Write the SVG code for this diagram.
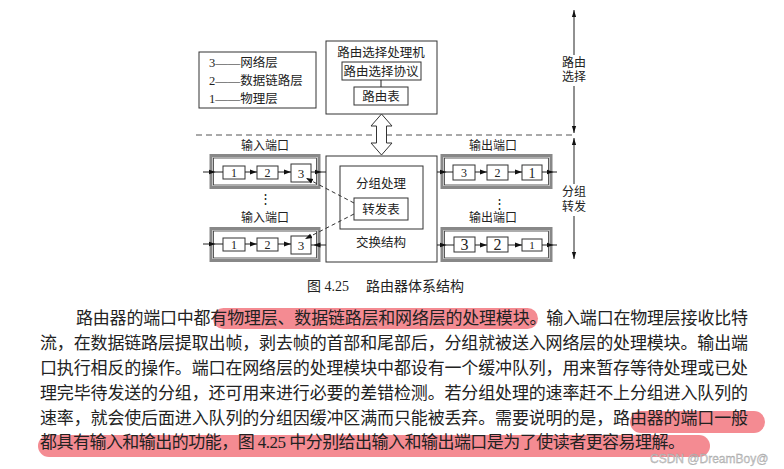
<svg xmlns="http://www.w3.org/2000/svg" width="784" height="469" viewBox="0 0 784 469">
<style>
text{font-family:"Liberation Serif","Noto Sans CJK SC",serif;fill:#222}
.lbl{font-size:12.5px;text-anchor:middle}
.dig{font-size:12px;text-anchor:middle}
.big{font-size:16px;text-anchor:middle}
.para{font-size:17px}
.box{fill:#fff;stroke:#333;stroke-width:1}
.pout{fill:#fff;stroke:#888;stroke-width:3}
.pin{fill:none;stroke:#333;stroke-width:0.8}
.ln{stroke:#222;stroke-width:1;fill:none}
.dash{stroke:#333;stroke-width:1;stroke-dasharray:4,3;fill:none}
.hl{fill:#ef5a64;fill-opacity:0.7}
</style>
<defs>
<marker id="ah" viewBox="0 0 10 10" refX="10" refY="5" markerWidth="7" markerHeight="7" orient="auto" markerUnits="userSpaceOnUse"><path d="M0,1.5 L10,5 L0,8.5 Z" fill="#111"/></marker>
<marker id="am" viewBox="0 0 10 10" refX="5" refY="5" markerWidth="7" markerHeight="7" orient="auto" markerUnits="userSpaceOnUse"><path d="M0,1.5 L10,5 L0,8.5 Z" fill="#111"/></marker>
<marker id="av" viewBox="0 0 10 10" refX="10" refY="5" markerWidth="9" markerHeight="7" orient="auto-start-reverse" markerUnits="userSpaceOnUse"><path d="M0,2 L10,5 L0,8 Z" fill="#111"/></marker>
</defs>
<rect width="784" height="469" fill="#fff"/>

<g id="legend">
<rect x="199" y="52" width="117" height="56" fill="#fff" stroke="#333"/>
<text x="209" y="67" style="font-size:12.5px">3——网络层</text>
<text x="209" y="85" style="font-size:12.5px">2——数据链路层</text>
<text x="209" y="103" style="font-size:12.5px">1——物理层</text>
</g>

<g id="routing-processor">
<rect x="326" y="41" width="111" height="73" class="box"/>
<text x="381" y="57" class="lbl">路由选择处理机</text>
<rect x="342" y="62" width="79" height="18" class="box"/>
<text x="381" y="76" class="lbl">路由选择协议</text>
<line x1="381" y1="80" x2="381" y2="87" class="ln"/>
<rect x="354" y="87" width="54" height="18" class="box"/>
<text x="381" y="101" class="lbl">路由表</text>
</g>

<g id="switch-fabric">
<rect x="326" y="156" width="111" height="106" class="box"/>
<rect x="340" y="166" width="83" height="63" class="box"/>
<text x="381" y="188" class="lbl">分组处理</text>
<rect x="354" y="198" width="54" height="22" class="box"/>
<text x="381" y="214" class="lbl">转发表</text>
<text x="381" y="247" class="lbl">交换结构</text>
</g>

<g id="input-port-1">
<text x="265" y="150" class="lbl" style="font-size:12px">输入端口</text>
<rect x="211" y="155.5" width="108" height="32" class="pout"/>
<rect x="213.5" y="158" width="103" height="27" class="pin"/>
<rect x="223" y="166" width="22" height="13" class="box"/><text x="234" y="177" class="dig">1</text>
<rect x="257" y="166" width="21" height="13" class="box"/><text x="267.5" y="177" class="dig">2</text>
<rect x="291" y="164" width="20" height="18" class="box"/><text x="301" y="178" class="dig" style="font-size:13px">3</text>
</g>
<g id="input-port-2">
<text x="265" y="222" class="lbl" style="font-size:12px">输入端口</text>
<rect x="211" y="228.5" width="108" height="32" class="pout"/>
<rect x="213.5" y="231" width="103" height="27" class="pin"/>
<rect x="223" y="238" width="22" height="13" class="box"/><text x="234" y="249" class="dig">1</text>
<rect x="257" y="238" width="21" height="13" class="box"/><text x="267.5" y="249" class="dig">2</text>
<rect x="291" y="236" width="20" height="18" class="box"/><text x="301" y="250" class="dig" style="font-size:13px">3</text>
</g>
<g id="output-port-1">
<text x="493" y="150" class="lbl" style="font-size:12px">输出端口</text>
<rect x="442" y="155.5" width="109" height="32" class="pout"/>
<rect x="444.5" y="158" width="104" height="27" class="pin"/>
<rect x="453" y="165" width="22" height="15" class="box"/><text x="464" y="177" class="dig">3</text>
<rect x="487" y="165" width="21" height="15" class="box"/><text x="497.5" y="177" class="dig">2</text>
<rect x="522" y="165" width="20" height="15" class="box"/><text x="532" y="178" class="dig" style="font-size:14px">1</text>
</g>
<g id="output-port-2">
<text x="493" y="222" class="lbl" style="font-size:12px">输出端口</text>
<rect x="442" y="228.5" width="109" height="32" class="pout"/>
<rect x="444.5" y="231" width="104" height="27" class="pin"/>
<rect x="454" y="237" width="21" height="15" class="box"/><text x="464.5" y="250" class="big">3</text>
<rect x="487" y="237" width="21" height="15" class="box"/><text x="497.5" y="250" class="big">2</text>
<rect x="522" y="239" width="20" height="12" class="box"/><text x="532" y="249" class="dig" style="font-size:11px">1</text>
</g>

<g id="dots">
<text x="265" y="203" class="lbl">⋮</text>
<text x="499" y="208" class="lbl">⋮</text>
</g>

<g id="labels">
<text x="574" y="67" class="lbl" style="font-size:12px">路由</text>
<text x="574" y="81" class="lbl" style="font-size:12px">选择</text>
<text x="574" y="196" class="lbl" style="font-size:12px">分组</text>
<text x="574" y="211" class="lbl" style="font-size:12px">转发</text>
</g>

<g id="connectors">
<line x1="196" y1="135" x2="574" y2="135" stroke="#555" stroke-width="1.2" stroke-dasharray="6,4"/>
<path d="M574,10 L574,55" class="ln" marker-start="url(#av)"/>
<path d="M574,86 L574,133" class="ln" marker-end="url(#av)"/>
<path d="M574,138 L574,184" class="ln" marker-start="url(#av)"/>
<path d="M574,216 L574,259" class="ln" marker-end="url(#av)"/>
<path d="M381.5,114 L392,126 L386.5,126 L386.5,143 L392,143 L381.5,155 L371,143 L376.5,143 L376.5,126 L371,126 Z" fill="#fff" stroke="#333" stroke-width="1"/>
<path d="M203,172 L212,172 L223,172" class="ln" marker-mid="url(#am)"/>
<line x1="245" y1="172" x2="257" y2="172" class="ln" marker-end="url(#ah)"/>
<line x1="278" y1="172" x2="291" y2="172" class="ln" marker-end="url(#ah)"/>
<path d="M311,172 L318,172 L326,172" class="ln" marker-mid="url(#am)"/>
<path d="M203,244 L212,244 L223,244" class="ln" marker-mid="url(#am)"/>
<line x1="245" y1="244" x2="257" y2="244" class="ln" marker-end="url(#ah)"/>
<line x1="278" y1="244" x2="291" y2="244" class="ln" marker-end="url(#ah)"/>
<path d="M326,245 L317,245 L311,245" class="ln" marker-mid="url(#am)"/>
<path d="M437,172 L443,172 L453,172" class="ln" marker-mid="url(#am)"/>
<line x1="475" y1="172" x2="487" y2="172" class="ln" marker-end="url(#ah)"/>
<line x1="508" y1="172" x2="522" y2="172" class="ln" marker-end="url(#ah)"/>
<path d="M542,172 L550,172 L557,172" class="ln" marker-mid="url(#am)"/>
<path d="M437,245 L443,245 L454,245" class="ln" marker-mid="url(#am)"/>
<line x1="475" y1="245" x2="487" y2="245" class="ln" marker-end="url(#ah)"/>
<line x1="508" y1="245" x2="522" y2="245" class="ln" marker-end="url(#ah)"/>
<path d="M542,245 L550,245 L557,245" class="ln" marker-mid="url(#am)"/>
<line x1="354" y1="203" x2="306" y2="178" class="dash" marker-end="url(#ah)"/>
<line x1="354" y1="214" x2="305" y2="239" class="dash" marker-end="url(#ah)"/>
</g>

<g id="caption">
<text x="307" y="291" style="font-size:14px">图 4.25</text>
<text x="366" y="291" style="font-size:14px">路由器体系结构</text>
</g>

<g id="highlights">
<rect x="213" y="308" width="325" height="21" rx="10.5" class="hl"/>
<rect x="630" y="411" width="135" height="22" rx="11" class="hl"/>
<rect x="38" y="435" width="672" height="22" rx="11" class="hl"/>
</g>

<g id="paragraph">
<text x="76" y="324" class="para" textLength="672" lengthAdjust="spacing">路由器的端口中都有物理层、数据链路层和网络层的处理模块。输入端口在物理层接收比特</text>
<text x="40" y="349" class="para" textLength="708" lengthAdjust="spacing">流，在数据链路层提取出帧，剥去帧的首部和尾部后，分组就被送入网络层的处理模块。输出端</text>
<text x="40" y="374" class="para" textLength="708" lengthAdjust="spacing">口执行相反的操作。端口在网络层的处理模块中都设有一个缓冲队列，用来暂存等待处理或已处</text>
<text x="40" y="399" class="para" textLength="708" lengthAdjust="spacing">理完毕待发送的分组，还可用来进行必要的差错检测。若分组处理的速率赶不上分组进入队列的</text>
<text x="40" y="424" class="para" textLength="708" lengthAdjust="spacing">速率，就会使后面进入队列的分组因缓冲区满而只能被丢弃。需要说明的是，路由器的端口一般</text>
<text x="40" y="448" class="para" textLength="645" lengthAdjust="spacing">都具有输入和输出的功能，图 4.25 中分别给出输入和输出端口是为了使读者更容易理解。</text>
</g>

<text x="650" y="463" style="font-size:12px;font-family:'Liberation Sans',sans-serif;fill:#d0d0d0;stroke:#999;stroke-width:0.3">CSDN @DreamBoy@</text>
</svg>
